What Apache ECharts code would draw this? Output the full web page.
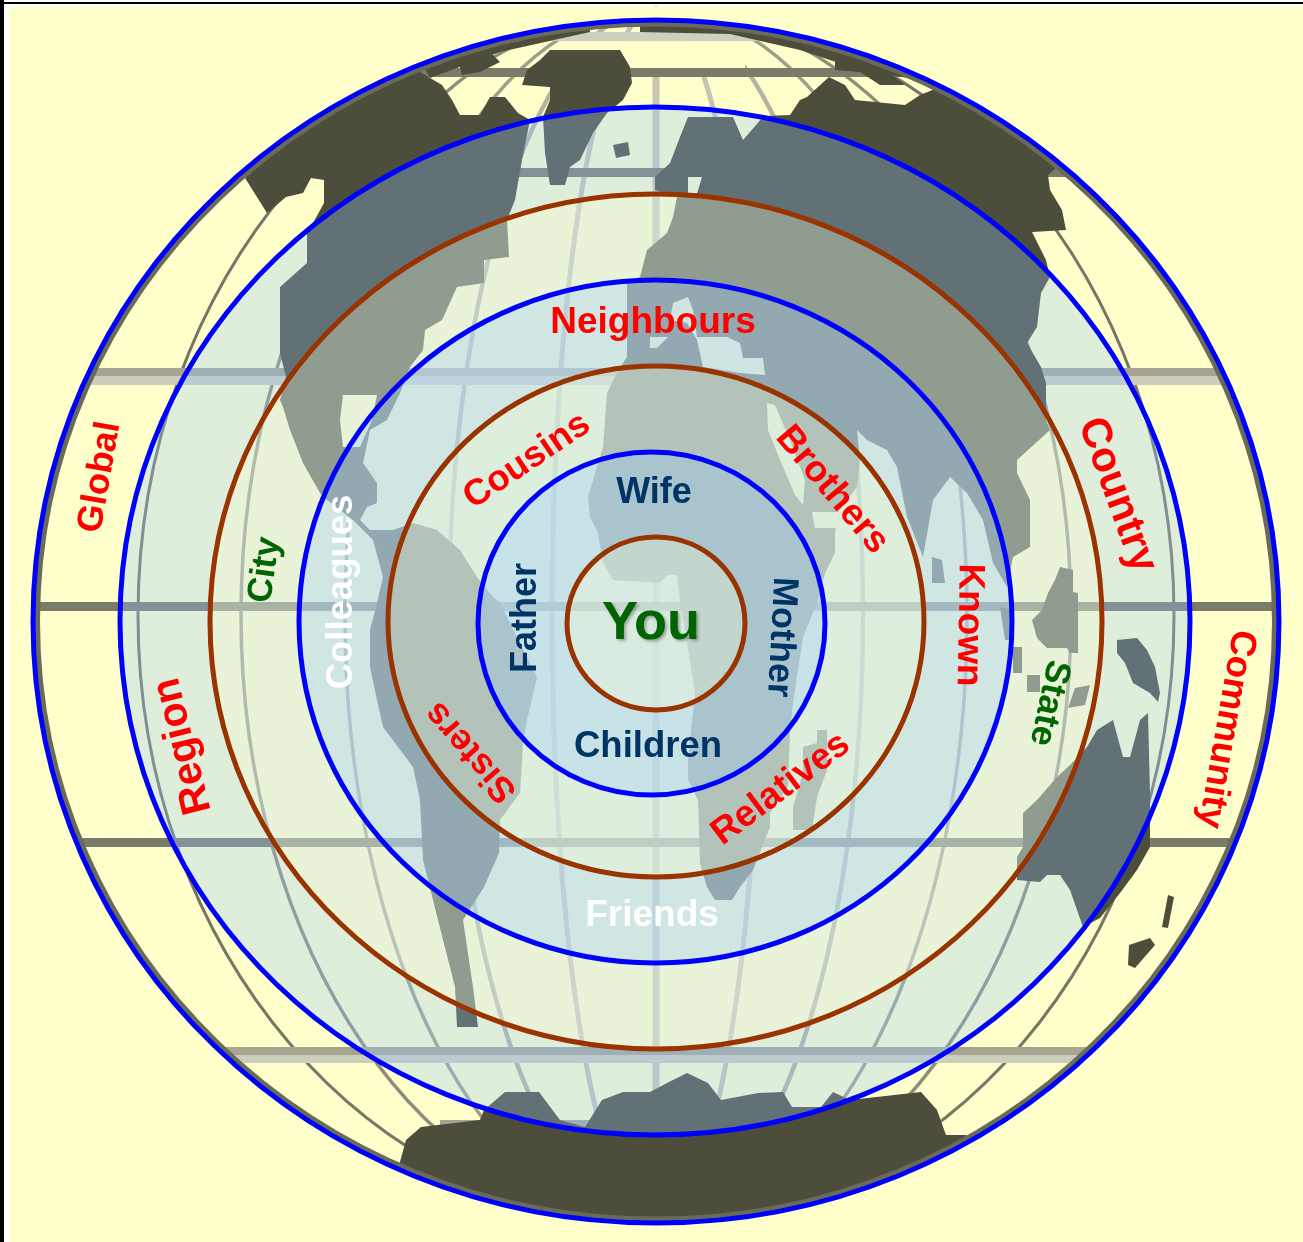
<!DOCTYPE html>
<html>
<head>
<meta charset="utf-8">
<style>
html,body{margin:0;padding:0;background:#fff;width:1303px;height:1242px;overflow:hidden}
#bar1{position:absolute;left:0;top:2px;width:1303px;height:2px;background:#000}
#bar2{position:absolute;left:0;top:0;width:4px;height:1242px;background:#000}
#paper{position:absolute;left:9px;top:7px;width:1294px;height:1235px;background:#ffffcc}
#chart{position:absolute;left:0;top:0;width:1303px;height:1242px}
</style>
<script src="https://cdn.jsdelivr.net/npm/echarts@6/dist/echarts.min.js"></script>
</head>
<body>
<div id="bar1"></div><div id="bar2"></div><div id="paper"></div>
<div id="chart"></div>
<script>
// Concentric rings (outermost first)
const ringCx = [656, 655, 656, 655.5, 656, 651.5, 656];
const ringCy = [621.5, 621, 621.5, 621.5, 621.5, 623.5, 623.5];
const ringRx = [623, 535, 446, 356.5, 268, 173.5, 89];
const ringRy = [601.5, 514, 427.5, 341.5, 255.5, 171.5, 86.5];
const ringStroke = ['#0000ff', '#0000ff', '#993300', '#0000ff', '#993300', '#0000ff', '#993300'];
const ringFill = ['none', 'blue', 'yellow', 'blue', 'yellow', 'blue', 'yellow'];

// Labels
const labelText = ['You','Wife','Children','Father','Mother','Neighbours','Friends','Cousins','Brothers','Sisters','Relatives','Known','Country','Community','Global','Region','City','Colleagues','State'];
const labelX = [651,654,648,526,781,653,652,527,832,471,781,969,1117,1226,100,183,265,342,1049];
const labelY = [624,493,747,618,637,323,916,461,490,752,789,625,495,729,477,746,570,592,703];
const labelRotate = [0,0,0,90,-93,0,0,34,-50,131,37,-91,-70,-100,80,104,82,90,-102];
const labelSize = [54,36,36.5,36,36,37,37,36.5,37,36,37,37,42,36.5,36,41,35,36.5,35.5];
const labelColor = ['#006400','#003366','#003366','#003366','#003366','#ff0000','#ffffff','#ff0000','#ff0000','#ff0000','#ff0000','#ff0000','#ff0000','#ff0000','#ff0000','#ff0000','#006400','#ffffff','#006400'];

// Map grid: parallels and meridian half-widths
const parallelTop = [32, 68, 168, 368, 376, 602, 838, 1047, 1055, 1120];
const parallelBottom = [41, 77, 177, 376, 385, 611, 847, 1055, 1063, 1128];
const parallelLeft = [20, 20, 20, 20, 20, 20, 20, 20, 20, 440];
const parallelRight = [1290, 1290, 1290, 1290, 1290, 1290, 1290, 1290, 1290, 940];
const parallelColor = ['#cfcfbf','#7b7b69','#7b7b69','#a5a592','#cdcdbd','#7b7b69','#7b7b69','#a5a592','#cdcdbd','#a5a592'];
const meridianRx = [0, 104, 207, 311, 415, 518];
const meridianWidth = [7, 5, 4.5, 3.5, 3.5, 3];
const meridianColor = ['#c8c8b6','#c4c4b2','#b4b4a2','#9f9f8d','#8d8d7b','#777765'];

// Land outlines
const landAmericas = [[245,178],[270,130],[330,90],[420,60],[420,72],[442,85],[452,100],[460,115],[480,115],[490,97],[505,97],[518,113],[530,120],[522,160],[515,200],[507,220],[509,257],[484,260],[484,283],[457,287],[442,320],[425,330],[423,350],[410,367],[400,393],[387,420],[370,430],[363,463],[377,483],[377,503],[367,507],[360,520],[370,530],[393,530],[413,523],[437,530],[460,550],[477,577],[493,597],[500,603],[537,677],[527,720],[523,743],[520,793],[500,820],[499,853],[484,887],[463,920],[473,987],[478,1027],[457,1027],[455,987],[438,920],[423,860],[420,800],[413,767],[383,727],[377,700],[370,667],[370,630],[377,603],[383,577],[373,540],[353,520],[327,500],[320,493],[303,463],[290,430],[283,407],[280,400],[286,377],[280,353],[280,287],[307,263],[307,233],[313,223],[324,203],[324,180],[311,178],[303,193],[286,197],[267,213]];
const landGreenland = [[527,70],[540,60],[550,50],[620,50],[630,67],[632,83],[623,100],[607,113],[593,133],[580,160],[570,167],[565,185],[550,185],[545,153],[543,117],[550,100],[550,87],[522,85]];
const landAfroEurasia = [[688,117],[740,117],[790,115],[800,100],[807,97],[829,77],[845,85],[855,100],[905,105],[920,95],[945,85],[1000,100],[1070,155],[1048,175],[1050,190],[1062,210],[1066,230],[1032,232],[1046,260],[1050,277],[1041,293],[1037,327],[1027,343],[1041,367],[1046,383],[1046,420],[1050,430],[1017,460],[1017,473],[1030,500],[1030,547],[1013,557],[1007,587],[993,563],[983,520],[967,493],[950,477],[933,500],[923,557],[907,517],[897,467],[887,450],[867,440],[857,430],[860,460],[857,487],[838,512],[835,533],[835,553],[825,573],[818,600],[803,637],[793,703],[790,733],[788,787],[770,813],[770,827],[753,870],[740,887],[732,900],[715,900],[707,887],[700,863],[698,800],[688,780],[688,760],[695,693],[687,643],[680,600],[677,575],[667,575],[660,583],[613,580],[603,563],[598,533],[590,517],[588,497],[597,467],[603,447],[607,393],[617,373],[623,363],[627,357],[627,283],[640,277],[647,250],[667,233],[673,217],[677,197],[655,190],[655,177],[670,163],[680,137]];
const landAustralia = [[1017,880],[1017,857],[1023,847],[1023,813],[1037,800],[1057,777],[1070,765],[1087,747],[1097,730],[1113,720],[1123,757],[1130,757],[1140,720],[1148,713],[1150,793],[1150,847],[1137,870],[1120,893],[1100,918],[1083,927],[1077,910],[1070,890],[1060,875],[1047,875],[1040,882]];
const landAntarctica = [[395,1180],[406,1140],[421,1127],[480,1120],[484,1110],[505,1092],[539,1092],[560,1120],[585,1127],[602,1100],[623,1092],[650,1092],[667,1083],[687,1073],[708,1083],[721,1100],[758,1093],[783,1092],[792,1107],[821,1107],[833,1092],[850,1100],[921,1092],[937,1110],[946,1135],[966,1135],[975,1150],[800,1240],[500,1240]];
const landBorneo = [[1060,567],[1073,570],[1073,592],[1078,593],[1078,653],[1070,653],[1067,648],[1047,648],[1037,638],[1032,620],[1042,610],[1048,593],[1055,580]];
const landNewGuinea = [[1117,640],[1137,638],[1147,650],[1155,667],[1160,693],[1158,702],[1150,693],[1133,683],[1125,663],[1117,653]];
const landMadagascar = [[817,730],[827,730],[827,770],[817,797],[812,830],[793,830],[793,807],[803,773],[803,747],[817,743]];
const landIceland = [[613,145],[628,142],[630,155],[616,158]];
const landSriLanka = [[932,557],[942,560],[945,583],[932,583]];
const landSumatra = [[1000,607],[1012,610],[1012,640],[1005,640]];
const landJava = [[1013,647],[1022,647],[1022,673],[1013,673]];
const landCelebes = [[1027,675],[1040,675],[1040,692],[1027,692]];
const landMoluccas = [[1075,688],[1090,685],[1085,705],[1068,708]];
const landNewZealandN = [[1168,895],[1174,897],[1168,928],[1162,927]];
const landNewZealandS = [[1129,945],[1150,938],[1155,945],[1135,968],[1128,965]];
const landArcticA = [[458,60],[490,52],[500,62],[480,72],[462,75]];
const landArcticB = [[835,55],[880,65],[905,85],[880,85],[860,72],[835,70]];
const landArcticRimW = [[420,60],[590,18],[590,32],[500,52],[430,78]];
const landArcticRimE = [[640,18],[730,20],[830,40],[920,80],[860,70],[800,50],[730,34],[640,32]];
const landAll = [landAmericas,landGreenland,landAfroEurasia,landAustralia,landAntarctica,landBorneo,landNewGuinea,landMadagascar,landIceland,landSriLanka,landSumatra,landJava,landCelebes,landMoluccas,landNewZealandN,landNewZealandS,landArcticA,landArcticB,landArcticRimW,landArcticRimE];

// Inland seas and the empty polar cap
const seaMediterranean = [[673,303],[688,297],[693,310],[697,337],[727,337],[740,343],[743,358],[763,358],[765,375],[740,373],[703,367],[697,340],[687,323],[670,320]];
const seaTyrrhenian = [[650,337],[668,337],[657,348],[650,348]];
const seaRed = [[767,403],[775,405],[790,440],[805,480],[803,505],[795,495],[780,460],[768,430]];
const seaAden = [[812,512],[838,512],[837,528],[815,528]];
const seaHudson = [[343,395],[377,395],[372,420],[360,447],[343,447],[340,420]];
const seaBering = [[733,117],[763,117],[743,140]];
const seaBaltic = [[688,177],[702,177],[696,197],[688,197]];
const seaPolar = [[560,41],[745,41],[745,68],[560,68]];
const seaAll = [seaMediterranean,seaTyrrhenian,seaRed,seaAden,seaHudson,seaBering,seaBaltic];

const LAND = '#4d4d3b', PAPER = '#ffffcc';
const FILLS = {blue:'rgba(150,200,255,0.3)', yellow:'rgba(255,255,204,0.3)', none:'rgba(0,0,0,0)'};
const rim = {cx:656, cy:615, ry:606};

function idx(list){return list.map((_,i)=>[i,0]);}
function custom(list, render, z){
  return {type:'custom', coordinateSystem:'cartesian2d', silent:true, z:z, data:idx(list),
    renderItem:(p,api)=>render(api.value(0),api)};
}
function poly(list,fill){
  return (i,api)=>({type:'polygon',shape:{points:list[i].map(q=>api.coord(q))},style:{fill:fill}});
}
const series = [
  custom(meridianRx,(i,api)=>{
    const c=api.coord([rim.cx,rim.cy]);
    const s={fill:'none',stroke:meridianColor[i],lineWidth:meridianWidth[i]};
    return {type:'ellipse',shape:{cx:c[0],cy:c[1],rx:Math.max(meridianRx[i],0.01),ry:rim.ry},style:s};
  },1),
  custom([seaPolar],poly([seaPolar],PAPER),2),
  custom(parallelTop,(i,api)=>{
    const a=api.coord([parallelLeft[i],parallelTop[i]]), b=api.coord([parallelRight[i],parallelBottom[i]]);
    return {type:'rect',shape:{x:a[0],y:a[1],width:b[0]-a[0],height:b[1]-a[1]},style:{fill:parallelColor[i]}};
  },3),
  custom(landAll,poly(landAll,LAND),4),
  custom(seaAll,poly(seaAll,PAPER),5),
  custom([0],(i,api)=>{
    const c=api.coord([ringCx[0],ringCy[0]]);
    return {type:'ellipse',shape:{cx:c[0],cy:c[1],rx:ringRx[0]-4,ry:ringRy[0]-3.5},style:{fill:'none',stroke:'#6a6a58',lineWidth:6}};
  },6),
  custom([0],(i,api)=>{
    const p=api.coord([9,7]), q=api.coord([1303,1242]), c=api.coord([ringCx[0],ringCy[0]]);
    const rx=ringRx[0], ry=ringRy[0];
    const d=`M${p[0]} ${p[1]}H${q[0]}V${q[1]}H${p[0]}Z M${c[0]-rx} ${c[1]}A${rx} ${ry} 0 1 0 ${c[0]+rx} ${c[1]}A${rx} ${ry} 0 1 0 ${c[0]-rx} ${c[1]}Z`;
    return {type:'path',shape:{pathData:d},style:{fill:PAPER}};
  },7),
  custom(ringRx,(i,api)=>{
    const c=api.coord([ringCx[i],ringCy[i]]);
    return {type:'ellipse',shape:{cx:c[0],cy:c[1],rx:ringRx[i],ry:ringRy[i]},
      style:{fill:FILLS[ringFill[i]],stroke:ringStroke[i],lineWidth:5}};
  },8),
  {type:'scatter',z:9,silent:true,symbolSize:1,itemStyle:{color:'rgba(0,0,0,0)',opacity:1},
   data:labelText.map((t,i)=>({value:[labelX[i],labelY[i]],
     label:{show:true,position:'inside',formatter:t,rotate:labelRotate[i],align:'center',verticalAlign:'middle',opacity:1,
       fontFamily:'"Liberation Sans",Arial,sans-serif',fontWeight:'bold',fontSize:labelSize[i],color:labelColor[i],
       textShadowColor:t==='You'?'rgba(0,0,0,0.3)':'transparent',textShadowBlur:t==='You'?3:0,textShadowOffsetX:t==='You'?2:0,textShadowOffsetY:t==='You'?2:0}}))}
];
const chart = echarts.init(document.getElementById('chart'),null,{renderer:'canvas'});
chart.setOption({
  animation:false,
  grid:{left:0,right:0,top:0,bottom:0},
  xAxis:{type:'value',min:0,max:1303,show:false},
  yAxis:{type:'value',min:0,max:1242,inverse:true,show:false},
  series:series
});
</script>
</body>
</html>
